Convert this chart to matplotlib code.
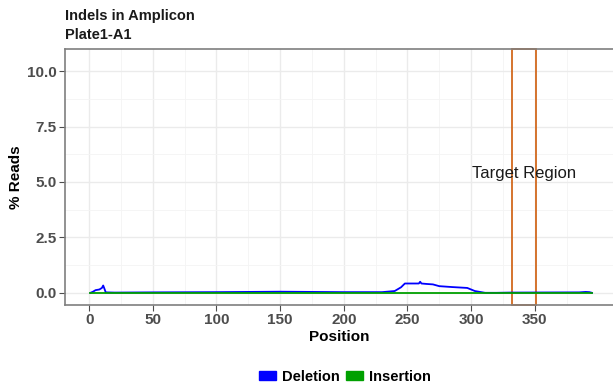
import matplotlib.pyplot as plt
from matplotlib.patches import Patch, Rectangle

plt.rcParams['font.family'] = ['Liberation Sans', 'DejaVu Sans']

# Breakpoints of the deletion trace
del_pos = [1, 3, 5, 8, 10, 11, 12, 13, 20, 50, 100, 150, 200, 230, 240, 245, 248,
           255, 259, 260, 261, 265, 270, 275, 285, 297, 303, 311, 320, 330, 385, 390, 393, 395]
del_pct = [0.0, 0.05, 0.12, 0.15, 0.22, 0.33, 0.18, 0.02, 0.01, 0.02, 0.03, 0.05, 0.03, 0.03, 0.08,
           0.25, 0.42, 0.42, 0.42, 0.5, 0.42, 0.4, 0.38, 0.3, 0.26, 0.22, 0.08, 0.0, 0.0, 0.01, 0.02, 0.04, 0.03, 0.0]
ins_pos = [1, 395]
ins_pct = [0.0, 0.0]

target_start, target_end = 332, 351
title = "Indels in Amplicon\nPlate1-A1"

fig = plt.figure(figsize=(6.13, 3.85), dpi=100)
ax = fig.add_axes([65 / 613, 80 / 385, 548 / 613, 256 / 385])

ax.plot(del_pos, del_pct, color='#0000FF', lw=1.3, label='Deletion')
ax.plot(ins_pos, ins_pct, color='#00A000', lw=1.3, label='Insertion')

ax.add_patch(Rectangle((target_start, -0.55), target_end - target_start, 11.55,
                       fill=False, edgecolor='#D2691E', lw=1.3, clip_on=False))
ax.text((target_start + target_end) / 2, 5.4, 'Target Region', ha='center', va='center',
        fontsize=12, color='#1a1a1a')

ax.set_xlim(-19, 411.5)
ax.set_ylim(-0.55, 11.0)
ax.set_xticks([0, 50, 100, 150, 200, 250, 300, 350])
ax.set_xticks([25, 75, 125, 175, 225, 275, 325, 375], minor=True)
ax.set_yticks([0, 2.5, 5, 7.5, 10])
ax.set_yticklabels(['0.0', '2.5', '5.0', '7.5', '10.0'])
ax.set_yticks([1.25, 3.75, 6.25, 8.75], minor=True)
ax.grid(which='major', color='#ebebeb', lw=1.0)
ax.grid(which='minor', color='#f4f4f4', lw=0.6)
ax.set_axisbelow(True)

for s in ['left', 'bottom', 'top']:
    ax.spines[s].set_color('#7f7f7f')
    ax.spines[s].set_linewidth(1.2)
ax.spines['right'].set_visible(False)
ax.tick_params(which='major', length=4, color='#4d4d4d', labelsize=11, labelcolor='#4d4d4d', pad=2)
ax.tick_params(which='minor', length=0)
for lab in ax.get_xticklabels() + ax.get_yticklabels():
    lab.set_fontweight('bold')

ax.set_xlabel('Position', fontsize=11, fontweight='bold', labelpad=2)
ax.set_ylabel('% Reads', fontsize=11, fontweight='bold', labelpad=3)
fig.text(65 / 613, 1 - 9 / 385, title, ha='left', va='top', fontsize=10.5,
         fontweight='bold', color='#1a1a1a', linespacing=1.45)

handles = [Patch(color='#0000FF', label='Deletion'), Patch(color='#00A000', label='Insertion')]
fig.legend(handles=handles, loc='center', bbox_to_anchor=(345 / 613, 1 - 377 / 385), ncol=2,
           frameon=False, prop={'weight': 'bold', 'size': 10.5}, handlelength=1.2,
           handleheight=0.6, handletextpad=0.4, columnspacing=0.4)

fig.savefig('out.png', dpi=100)
